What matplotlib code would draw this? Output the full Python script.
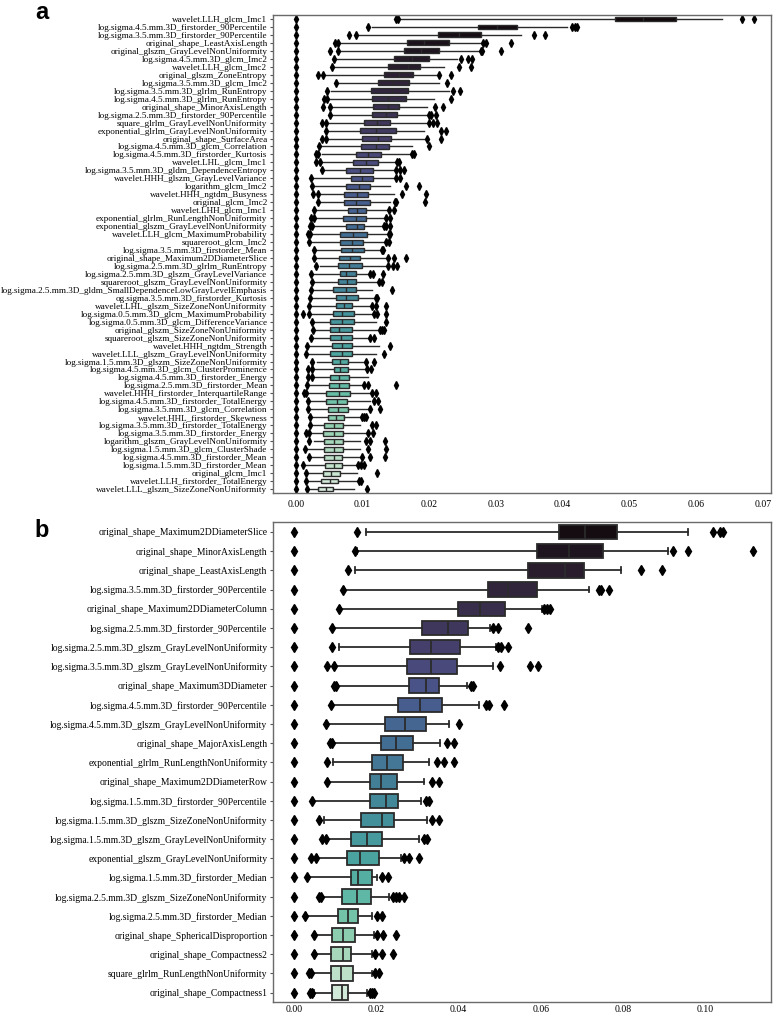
#!/usr/bin/env python
"""Feature importance boxplots (panel a: 60 features, panel b: top 25)."""

import colorsys

import matplotlib
matplotlib.use("Agg")
import matplotlib.pyplot as plt
import seaborn as sns

# ---- panel a -------------------------------------------------------------
feat_a = [
    "wavelet.LLH_glcm_Imc1",
    "log.sigma.4.5.mm.3D_firstorder_90Percentile",
    "log.sigma.3.5.mm.3D_firstorder_90Percentile",
    "original_shape_LeastAxisLength",
    "original_glszm_GrayLevelNonUniformity",
    "log.sigma.4.5.mm.3D_glcm_Imc2",
    "wavelet.LLH_glcm_Imc2",
    "original_glszm_ZoneEntropy",
    "log.sigma.3.5.mm.3D_glcm_Imc2",
    "log.sigma.3.5.mm.3D_glrlm_RunEntropy",
    "log.sigma.4.5.mm.3D_glrlm_RunEntropy",
    "original_shape_MinorAxisLength",
    "log.sigma.2.5.mm.3D_firstorder_90Percentile",
    "square_glrlm_GrayLevelNonUniformity",
    "exponential_glrlm_GrayLevelNonUniformity",
    "original_shape_SurfaceArea",
    "log.sigma.4.5.mm.3D_glcm_Correlation",
    "log.sigma.4.5.mm.3D_firstorder_Kurtosis",
    "wavelet.LHL_glcm_Imc1",
    "log.sigma.3.5.mm.3D_gldm_DependenceEntropy",
    "wavelet.HHH_glszm_GrayLevelVariance",
    "logarithm_glcm_Imc2",
    "wavelet.HHH_ngtdm_Busyness",
    "original_glcm_Imc2",
    "wavelet.LHH_glcm_Imc1",
    "exponential_glrlm_RunLengthNonUniformity",
    "exponential_glszm_GrayLevelNonUniformity",
    "wavelet.LLH_glcm_MaximumProbability",
    "squareroot_glcm_Imc2",
    "log.sigma.3.5.mm.3D_firstorder_Mean",
    "original_shape_Maximum2DDiameterSlice",
    "log.sigma.2.5.mm.3D_glrlm_RunEntropy",
    "log.sigma.2.5.mm.3D_glszm_GrayLevelVariance",
    "squareroot_glszm_GrayLevelNonUniformity",
    "log.sigma.2.5.mm.3D_gldm_SmallDependenceLowGrayLevelEmphasis",
    "og.sigma.3.5.mm.3D_firstorder_Kurtosis",
    "wavelet.LHL_glszm_SizeZoneNonUniformity",
    "log.sigma.0.5.mm.3D_glcm_MaximumProbability",
    "log.sigma.0.5.mm.3D_glcm_DifferenceVariance",
    "original_glszm_SizeZoneNonUniformity",
    "squareroot_glszm_SizeZoneNonUniformity",
    "wavelet.HHH_ngtdm_Strength",
    "wavelet.LLL_glszm_GrayLevelNonUniformity",
    "log.sigma.1.5.mm.3D_glszm_SizeZoneNonUniformity",
    "log.sigma.4.5.mm.3D_glcm_ClusterProminence",
    "log.sigma.4.5.mm.3D_firstorder_Energy",
    "log.sigma.2.5.mm.3D_firstorder_Mean",
    "wavelet.HHH_firstorder_InterquartileRange",
    "log.sigma.4.5.mm.3D_firstorder_TotalEnergy",
    "log.sigma.3.5.mm.3D_glcm_Correlation",
    "wavelet.HHL_firstorder_Skewness",
    "log.sigma.3.5.mm.3D_firstorder_TotalEnergy",
    "log.sigma.3.5.mm.3D_firstorder_Energy",
    "logarithm_glszm_GrayLevelNonUniformity",
    "log.sigma.1.5.mm.3D_glcm_ClusterShade",
    "log.sigma.4.5.mm.3D_firstorder_Mean",
    "log.sigma.1.5.mm.3D_firstorder_Mean",
    "original_glcm_Imc1",
    "wavelet.LLH_firstorder_TotalEnergy",
    "wavelet.LLL_glszm_SizeZoneNonUniformity",
]

q1_a = [.0479, .0273, .0213, .0167, .0163, .0147, .0138, .0132, .0123, .0113,
        .0115, .0116, .0114, .0102, .0096, .0100, .0098, .0091, .0086, .0075,
        .0083, .0075, .0072, .0073, .0078, .0071, .0075, .0066, .0066, .0068,
        .0065, .0063, .0066, .0063, .0056, .0060, .0061, .0056, .0052, .0051,
        .0052, .0054, .0052, .0054, .0057, .0051, .0050, .0045, .0046, .0048,
        .0049, .0043, .0041, .0042, .0043, .0043, .0044, .0041, .0038, .0033]
med_a = [.0520, .0302, .0245, .0192, .0187, .0175, .0168, .0155, .0146, .0144,
         .0138, .0138, .0135, .0122, .0120, .0123, .0120, .0108, .0106, .0097,
         .0100, .0095, .0092, .0091, .0092, .0090, .0092, .0086, .0084, .0085,
         .0081, .0080, .0076, .0077, .0075, .0076, .0073, .0070, .0069, .0065,
         .0068, .0070, .0069, .0066, .0067, .0065, .0065, .0065, .0062, .0064,
         .0060, .0058, .0058, .0058, .0057, .0057, .0057, .0053, .0051, .0045]
q3_a = [.0570, .0332, .0278, .0229, .0214, .0200, .0186, .0176, .0170, .0169,
        .0166, .0155, .0152, .0142, .0151, .0143, .0140, .0128, .0123, .0116,
        .0116, .0112, .0109, .0111, .0106, .0106, .0102, .0107, .0101, .0103,
        .0097, .0100, .0091, .0091, .0091, .0093, .0085, .0088, .0087, .0085,
        .0085, .0084, .0085, .0078, .0078, .0080, .0080, .0082, .0077, .0078,
        .0072, .0071, .0071, .0071, .0071, .0069, .0069, .0066, .0064, .0056]
lo_a = [.0158, .0115, .0095, .0066, .0066, .0060, .0058, .0046, .0064, .0053,
        .0049, .0054, .0053, .0048, .0047, .0047, .0037, .0040, .0040, .0042,
        .0025, .0027, .0036, .0035, .0029, .0029, .0027, .0023, .0022, .0029,
        .0029, .0037, .0025, .0027, .0025, .0024, .0022, .0022, .0027, .0028,
        .0025, .0019, .0018, .0032, .0027, .0027, .0020, .0018, .0022, .0022,
        .0024, .0024, .0023, .0027, .0017, .0022, .0013, .0018, .0018, .0020]
hi_a = [.0639, .0407, .0338, .0277, .0274, .0242, .0222, .0210, .0215, .0230,
        .0207, .0197, .0197, .0195, .0192, .0195, .0175, .0172, .0150, .0147,
        .0146, .0141, .0147, .0142, .0137, .0132, .0130, .0136, .0134, .0127,
        .0136, .0135, .0110, .0122, .0115, .0116, .0111, .0115, .0120, .0122,
        .0110, .0125, .0120, .0102, .0104, .0108, .0100, .0111, .0112, .0108,
        .0096, .0097, .0104, .0096, .0096, .0097, .0090, .0092, .0092, .0087]
fliers_a = [
    [0, .0150, .0154, .0669, .0687],
    [0, .0109, .0414, .0418, .0422],
    [0, .0080, .0091, .0357, .0373],
    [0, .0059, .0063, .0281, .0285, .0322],
    [0, .0052, .0063, .0277, .0279, .0307],
    [0, .0058, .0247, .0258, .0264],
    [0, .0055, .0245, .0263],
    [0, .0034, .0041, .0215, .0232],
    [0, .0061, .0227],
    [0, .0047, .0236, .0246],
    [0, .0042, .0047, .0233],
    [0, .0041, .0052, .0209, .0220],
    [0, .0051, .0200, .0202, .0210],
    [0, .0040, .0046, .0200, .0206, .0212],
    [0, .0045, .0217, .0225],
    [0, .0040, .0045, .0196, .0217],
    [0, .0035, .0200],
    [0, .0030, .0033, .0175, .0177],
    [0, .0030, .0037, .0152, .0155],
    [0, .0040, .0150, .0156, .0162],
    [0, .0023, .0150, .0157],
    [0, .0025, .0166, .0184],
    [0, .0026, .0034, .0160, .0195],
    [0, .0033, .0149, .0151, .0194],
    [0, .0027, .0140, .0147],
    [0, .0023, .0027, .0135, .0142],
    [0, .0021, .0025, .0132, .0136, .0141],
    [0, .0018, .0021, .0140, .0142],
    [0, .0020, .0136, .0140],
    [0, .0027, .0129, .0131],
    [0, .0027, .0138, .0147, .0166],
    [0, .0031, .0138, .0146, .0152],
    [0, .0023, .0111, .0116, .0131],
    [0, .0025, .0125, .0130],
    [0, .0023, .0145],
    [0, .0022, .0120, .0122],
    [0, .0020, .0115, .0121, .0136],
    [0, .0011, .0020, .0117, .0122, .0136],
    [0, .0025, .0136],
    [0, .0026, .0126, .0130, .0132],
    [0, .0023, .0112, .0117],
    [0, .0017, .0142],
    [0, .0016, .0132],
    [0, .0025, .0106, .0118],
    [0, .0019, .0025, .0107, .0113],
    [0, .0019, .0024],
    [0, .0017, .0103, .0109, .0150],
    [0, .0012, .0016, .0114, .0121],
    [0, .0019, .0118, .0124],
    [0, .0019, .0112, .0127],
    [0, .0021, .0099, .0102, .0106],
    [0, .0021, .0114, .0120],
    [0, .0015, .0020, .0109, .0116],
    [0, .0020, .0106, .0112, .0134],
    [0, .0014, .0109, .0136],
    [0, .0020, .0100, .0111, .0134],
    [0, .0011, .0094, .0098, .0103],
    [0, .0015, .0122],
    [0, .0015, .0095, .0098],
    [0, .0017, .0107],
]
ticks_a = [0.00, 0.01, 0.02, 0.03, 0.04, 0.05, 0.06, 0.07]

# ---- panel b -------------------------------------------------------------
feat_b = [
    "original_shape_Maximum2DDiameterSlice",
    "original_shape_MinorAxisLength",
    "original_shape_LeastAxisLength",
    "log.sigma.3.5.mm.3D_firstorder_90Percentile",
    "original_shape_Maximum2DDiameterColumn",
    "log.sigma.2.5.mm.3D_firstorder_90Percentile",
    "log.sigma.2.5.mm.3D_glszm_GrayLevelNonUniformity",
    "log.sigma.3.5.mm.3D_glszm_GrayLevelNonUniformity",
    "original_shape_Maximum3DDiameter",
    "log.sigma.4.5.mm.3D_firstorder_90Percentile",
    "log.sigma.4.5.mm.3D_glszm_GrayLevelNonUniformity",
    "original_shape_MajorAxisLength",
    "exponential_glrlm_RunLengthNonUniformity",
    "original_shape_Maximum2DDiameterRow",
    "log.sigma.1.5.mm.3D_firstorder_90Percentile",
    "log.sigma.1.5.mm.3D_glszm_SizeZoneNonUniformity",
    "log.sigma.1.5.mm.3D_glszm_GrayLevelNonUniformity",
    "exponential_glszm_GrayLevelNonUniformity",
    "log.sigma.1.5.mm.3D_firstorder_Median",
    "log.sigma.2.5.mm.3D_glszm_SizeZoneNonUniformity",
    "log.sigma.2.5.mm.3D_firstorder_Median",
    "original_shape_SphericalDisproportion",
    "original_shape_Compactness2",
    "square_glrlm_RunLengthNonUniformity",
    "original_shape_Compactness1",
]

q1_b = [.0645, .0590, .0570, .0472, .0399, .0310, .0282, .0275, .0279, .0252,
        .0221, .0210, .0190, .0183, .0183, .0163, .0137, .0129, .0137, .0117,
        .0106, .0091, .0090, .0088, .0092]
med_b = [.0708, .0670, .0659, .0521, .0451, .0375, .0332, .0332, .0321, .0306,
         .0270, .0248, .0225, .0212, .0224, .0213, .0178, .0159, .0156, .0153,
         .0131, .0119, .0118, .0114, .0117]
q3_b = [.0785, .0751, .0705, .0590, .0513, .0423, .0404, .0395, .0352, .0360,
        .0321, .0289, .0265, .0251, .0253, .0243, .0214, .0206, .0190, .0186,
        .0156, .0148, .0137, .0143, .0131]
lo_b = [.0174, .0152, .0148, .0120, .0110, .0094, .0109, .0098, .0103, .0090,
        .0078, .0094, .0095, .0082, .0045, .0072, .0078, .0055, .0033, .0066,
        .0028, .0050, .0050, .0043, .0048]
hi_b = [.0959, .0909, .0796, .0717, .0603, .0476, .0490, .0484, .0421, .0450,
        .0377, .0355, .0328, .0316, .0309, .0323, .0304, .0260, .0202, .0230,
        .0190, .0194, .0188, .0190, .0178]
fliers_b = [
    [0, .0152, .1019, .1037, .1043],
    [0, .0147, .0922, .0959, .1118],
    [0, .0130, .0843, .0896],
    [0, .0118, .0741, .0746, .0767],
    [0, .0108, .0609, .0615, .0622],
    [0, .0092, .0484, .0497, .0570],
    [0, .0092, .0495, .0503, .0521],
    [0, .0079, .0096, .0501, .0574, .0594],
    [0, .0097, .0101, .0430, .0435],
    [0, .0088, .0467, .0474, .0511],
    [0, .0076, .0401],
    [0, .0086, .0092, .0372, .0389],
    [0, .0080, .0348, .0365, .0389],
    [0, .0080, .0335, .0352],
    [0, .0043, .0320, .0328],
    [0, .0060, .0335, .0352],
    [0, .0068, .0076, .0316, .0323],
    [0, .0040, .0053, .0267, .0279, .0304],
    [0, .0031, .0214, .0228],
    [0, .0060, .0064, .0239, .0248, .0255, .0267],
    [0, .0026, .0202, .0214],
    [0, .0048, .0202, .0216, .0247],
    [0, .0048, .0196, .0214, .0241],
    [0, .0035, .0040, .0196, .0206],
    [0, .0037, .0043, .0184, .0189, .0195],
]
ticks_b = [0.00, 0.02, 0.04, 0.06, 0.08, 0.10]

SERIF = ["Liberation Serif", "DejaVu Serif"]
SANS = ["Liberation Sans", "DejaVu Sans"]
LINE = "#2b2b2b"


def _desat(rgb, prop=0.75):
    h, l, s = colorsys.rgb_to_hls(*rgb)
    return colorsys.hls_to_rgb(h, l, s * prop)


def draw_panel(ax, feats, q1, med, q3, lo, hi, fliers, ticks, xlim,
               box_w, lw, ms, cap_w, label_fs, xpad):
    n = len(feats)
    colors = [_desat(c) for c in sns.color_palette("mako", n)]
    stats = []
    for i in range(n):
        stats.append({"q1": q1[i], "med": med[i], "q3": q3[i],
                      "whislo": lo[i], "whishi": hi[i], "fliers": fliers[i]})
    bp = ax.bxp(
        stats, positions=range(n), widths=box_w, capwidths=cap_w,
        orientation="horizontal", patch_artist=True, showfliers=True,
        boxprops=dict(linewidth=lw, edgecolor=LINE),
        medianprops=dict(linewidth=lw, color=LINE),
        whiskerprops=dict(linewidth=lw, color=LINE),
        capprops=dict(linewidth=lw, color=LINE),
        flierprops=dict(marker="d", markerfacecolor="black",
                        markeredgecolor="black", markersize=ms,
                        linestyle="none"),
    )
    for patch, c in zip(bp["boxes"], colors):
        patch.set_facecolor(c)

    ax.set_ylim(n - 0.5, -0.5)
    ax.set_xlim(*xlim)
    ax.set_yticks(range(n))
    ax.set_yticklabels(feats, family=SERIF, fontsize=label_fs)
    ax.set_xticks(ticks)
    ax.set_xticklabels([f"{t:.2f}" for t in ticks], family=SERIF, fontsize=7)
    ax.tick_params(axis="y", length=2.5, width=0.8, color="#555555", pad=1.5)
    ax.tick_params(axis="x", length=0, pad=xpad)
    for sp in ax.spines.values():
        sp.set_color("#6a6a6a")
        sp.set_linewidth(1.0)


def main() -> None:
    fig = plt.figure(figsize=(7.77, 10.16), dpi=100)
    ax_a = fig.add_axes([0.3514, 0.5148, 0.6415, 0.4704])
    ax_b = fig.add_axes([0.3514, 0.0135, 0.6415, 0.4724])

    draw_panel(ax_a, feat_a, q1_a, med_a, q3_a, lo_a, hi_a, fliers_a,
               ticks_a, (-0.0034, 0.0713), box_w=0.62, lw=1.0, ms=4.0,
               cap_w=0.0, label_fs=6.55, xpad=5)
    draw_panel(ax_b, feat_b, q1_b, med_b, q3_b, lo_b, hi_b, fliers_b,
               ticks_b, (-0.0052, 0.1162), box_w=0.75, lw=1.3, ms=5.0,
               cap_w=0.3, label_fs=6.9, xpad=2)

    fig.text(0.045, 1 - 19 / 1016, "a", fontsize=17, fontweight="bold",
             family=SANS, va="baseline", ha="left")
    fig.text(0.045, 1 - 537 / 1016, "b", fontsize=17, fontweight="bold",
             family=SANS, va="baseline", ha="left")

    fig.savefig("out.png", dpi=100)
    plt.close(fig)


if __name__ == "__main__":
    main()
